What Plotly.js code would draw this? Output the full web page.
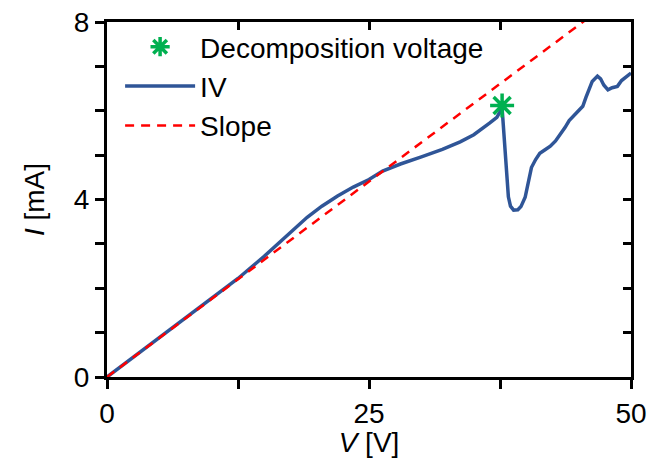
<!DOCTYPE html>
<html>
<head>
<meta charset="utf-8">
<script src="https://cdn.plot.ly/plotly-3.0.1.min.js"></script>
<style>html,body{margin:0;padding:0;background:#fff;}#chart{width:647px;height:458px;}</style>
</head>
<body>
<div id="chart"></div>
<script>
// IV curve
const ivV = [0, 2.5, 5, 7.5, 10, 12.5, 15, 17.2, 19.1, 20.5, 22, 23.5, 25, 26.3, 28, 30, 32, 33.7, 35, 36.5, 37.2, 37.7,
  38.0, 38.3, 38.5, 38.8, 39.2, 39.5, 39.9, 40.2, 40.5, 40.9, 41.3, 41.8, 42.3, 42.8, 43.2, 43.7, 44.1, 44.5, 45.0, 45.4,
  45.7, 46.0, 46.3, 46.8, 47.1, 47.4, 47.8, 48.2, 48.7, 49.1, 49.5, 50];
const ivI = [0, 0.44, 0.88, 1.32, 1.76, 2.22, 2.72, 3.2, 3.6, 3.85, 4.08, 4.28, 4.45, 4.64, 4.8, 4.96, 5.13, 5.3, 5.46, 5.72, 5.85, 6.06,
  4.9, 4.06, 3.85, 3.76, 3.77, 3.84, 4.05, 4.4, 4.72, 4.9, 5.04, 5.12, 5.2, 5.32, 5.45, 5.62, 5.78, 5.88, 5.98, 6.1,
  6.3, 6.5, 6.66, 6.78, 6.72, 6.58, 6.47, 6.52, 6.55, 6.68, 6.75, 6.85];
// Slope line
const slopeV = [0, 50];
const slopeI = [0, 8.81];
// Decomposition voltage point
const decompV = [37.7];
const decompI = [6.12];
// Tick labels
const xTicks = [0, 25, 50];
const yTicks = [0, 4, 8];

const FONT = 'Liberation Sans, Arial, sans-serif';

const traces = [
  {x: ivV, y: ivI, mode: 'lines', name: 'IV', line: {color: '#2F5597', width: 3.5},
   legendgroup: 'b', legendrank: 2, hoverinfo: 'skip'},
  {x: slopeV, y: slopeI, mode: 'lines', name: 'Slope', line: {color: '#FF0000', width: 2.5, dash: '9px,7px'},
   legendgroup: 'c', legendrank: 3, hoverinfo: 'skip'},
  {x: decompV, y: decompI, mode: 'markers', name: 'Decomposition voltage',
   marker: {symbol: 'asterisk-open', size: 20, color: '#00B050', line: {color: '#00B050', width: 3.5}},
   legendgroup: 'a', legendrank: 1, hoverinfo: 'skip'},
  {x: [], y: [], xaxis: 'x2', yaxis: 'y2', showlegend: false, hoverinfo: 'skip'}
];

const layout = {
  width: 647, height: 458,
  margin: {l: 107, r: 16, t: 22, b: 81},
  paper_bgcolor: '#fff', plot_bgcolor: '#fff',
  font: {family: FONT, size: 28, color: '#000'},
  showlegend: true,
  legend: {x: 0.025, y: 1.0, xanchor: 'left', yanchor: 'top', bgcolor: 'rgba(0,0,0,0)',
           itemwidth: 70, tracegroupgap: 0, traceorder: 'grouped', font: {family: FONT, size: 28}},
  xaxis: {range: [0, 50], tickvals: xTicks, showgrid: false, zeroline: false, showline: true,
          linecolor: '#000', linewidth: 3, ticks: 'outside', ticklen: 9, tickwidth: 3, tickcolor: '#000',
          minor: {dtick: 12.5, ticks: 'outside', ticklen: 9, tickwidth: 3, tickcolor: '#000', showgrid: false},
          title: {text: '<i>V</i> [V]', font: {family: FONT, size: 28}, standoff: 8}},
  yaxis: {range: [0, 8], tickvals: yTicks, ticksuffix: '\u2002', showgrid: false, zeroline: false, showline: true,
          linecolor: '#000', linewidth: 3, ticks: 'outside', ticklen: 9, tickwidth: 3, tickcolor: '#000',
          minor: {dtick: 1, ticks: 'outside', ticklen: 9, tickwidth: 3, tickcolor: '#000', showgrid: false},
          title: {text: '<i>I</i> [mA]', font: {family: FONT, size: 28}, standoff: 22}},
  xaxis2: {range: [0, 50], overlaying: 'x', side: 'top', showgrid: false, zeroline: false, showline: true,
           linecolor: '#000', linewidth: 3, ticks: 'inside', dtick: 12.5, tick0: 0, ticklen: 8, tickwidth: 3,
           tickcolor: '#000', showticklabels: false},
  yaxis2: {range: [0, 8], overlaying: 'y', side: 'right', showgrid: false, zeroline: false, showline: true,
           linecolor: '#000', linewidth: 3, ticks: 'inside', dtick: 1, tick0: 0, ticklen: 8, tickwidth: 3,
           tickcolor: '#000', showticklabels: false}
};

Plotly.newPlot('chart', traces, layout, {staticPlot: true, displayModeBar: false});
</script>
</body>
</html>
